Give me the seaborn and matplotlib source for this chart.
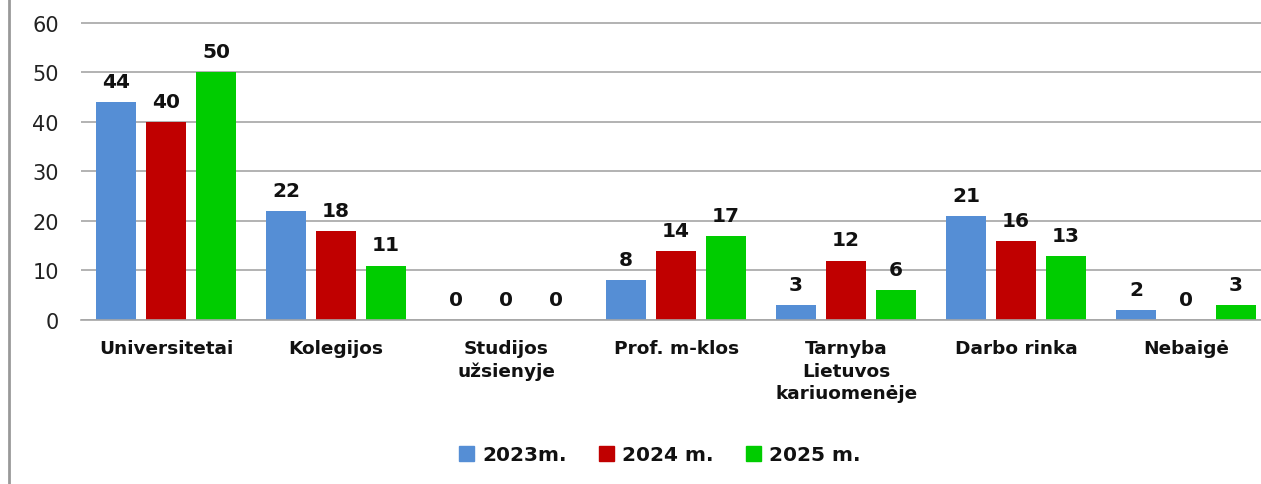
import pandas as pd
import matplotlib.pyplot as plt
import seaborn as sns
from matplotlib.lines import Line2D

categories = ["Universitetai", "Kolegijos", "Studijos\nužsienyje", "Prof. m-klos",
              "Tarnyba\nLietuvos\nkariuomenėje", "Darbo rinka", "Nebaigė"]
years = ["2023m.", "2024 m.", "2025 m."]
v2023 = [44, 22, 0, 8, 3, 21, 2]
v2024 = [40, 18, 0, 14, 12, 16, 0]
v2025 = [50, 11, 0, 17, 6, 13, 3]
colors = ["#558ED5", "#C00000", "#00CC00"]

df = pd.DataFrame({
    "cat": categories * 3,
    "year": [years[0]] * 7 + [years[1]] * 7 + [years[2]] * 7,
    "val": v2023 + v2024 + v2025,
})

sns.set_theme(style="white")
plt.rcParams["font.family"] = ["DejaVu Sans"]

fig = plt.figure(figsize=(12.61, 4.85), dpi=100)
ax = fig.add_axes([81 / 1261, 164 / 485, 1180 / 1261, 302 / 485])

sns.barplot(data=df, x="cat", y="val", hue="year", palette=colors,
            width=0.882, gap=0.2, ax=ax, legend=False, saturation=1,
            linewidth=0, edgecolor="none")

# value labels above bars
for cont in ax.containers:
    for bar in cont:
        h = bar.get_height()
        ax.annotate(f"{h:.0f}", (bar.get_x() + bar.get_width() / 2, h),
                    xytext=(0, 8), textcoords="offset points",
                    ha="center", va="bottom", fontsize=14.5, fontweight="bold",
                    color="#111111")

ax.set_xlim(-0.5, 6.44)
ax.set_ylim(0, 61)
ax.set_yticks(range(0, 61, 10))
ax.yaxis.grid(True, color="#A6A6A6", linewidth=1.2)
ax.set_axisbelow(True)
for s in ["top", "right", "left"]:
    ax.spines[s].set_visible(False)
ax.spines["bottom"].set_color("#A6A6A6")
ax.spines["bottom"].set_linewidth(1.2)
ax.set_xlabel("")
ax.set_ylabel("")
ax.tick_params(axis="y", labelsize=15, colors="#222222", pad=16, length=0)
ax.tick_params(axis="x", labelsize=13.3, pad=14, length=0)
for lbl in ax.get_xticklabels():
    lbl.set_fontweight("bold")
    lbl.set_color("#111111")
    lbl.set_verticalalignment("top")
    lbl.set_linespacing(1.3)

handles = [plt.Rectangle((0, 0), 1, 1, color=c) for c in colors]
leg = fig.legend(handles, years, loc="center", bbox_to_anchor=(660 / 1261, 1 - 456 / 485),
                 ncol=3, frameon=False, handlelength=0.75, handleheight=0.75,
                 handletextpad=0.4, columnspacing=1.6,
                 prop={"size": 14.5, "weight": "bold"})
for t in leg.get_texts():
    t.set_color("#111111")

# chart frame edge on the left
fig.add_artist(Line2D([9 / 1261, 9 / 1261], [0, 1], color="#999999", linewidth=2,
                      transform=fig.transFigure))

fig.savefig("out.png", dpi=100)
